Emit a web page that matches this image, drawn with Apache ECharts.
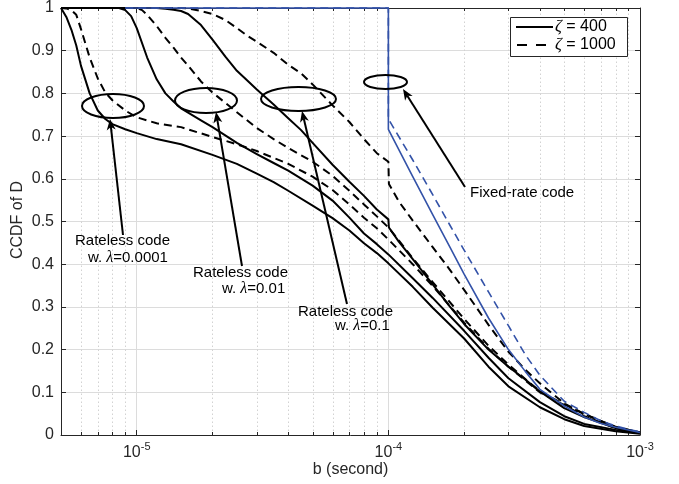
<!DOCTYPE html>
<html><head><meta charset="utf-8">
<script src="https://cdn.jsdelivr.net/npm/echarts@6/dist/echarts.min.js"></script>
<style>html,body{margin:0;padding:0;background:#fff}#c{width:679px;height:484px}</style>
</head><body><div id="c"></div>
<script>
// ---------- data (b in seconds, CCDF of D) ----------
const minorX = [6e-6,7e-6,8e-6,9e-6,2e-5,3e-5,4e-5,5e-5,6e-5,7e-5,8e-5,9e-5,2e-4,3e-4,4e-4,5e-4,6e-4,7e-4,8e-4,9e-4];

// Rateless, lambda = 0.0001
const b_S1 = [5e-6,5.25e-6,5.5e-6,5.75e-6,6e-6,6.5e-6,7e-6,7.5e-6,8e-6,9e-6,1e-5,1.2e-5,1.5e-5,2e-5,2.5e-5,3e-5,3.5e-5,4e-5,5e-5,6e-5,7e-5,8e-5,9e-5,1e-4,1.25e-4,1.5e-4,2e-4,2.5e-4,3e-4,4e-4,5e-4,6e-4,8e-4,1e-3];
const p_S1 = [1.000,0.979,0.949,0.912,0.865,0.800,0.760,0.740,0.728,0.716,0.707,0.693,0.681,0.656,0.635,0.612,0.592,0.572,0.537,0.508,0.479,0.449,0.426,0.402,0.347,0.298,0.226,0.160,0.114,0.065,0.037,0.021,0.009,0.003];
const b_D1 = [5e-6,5.25e-6,5.5e-6,5.75e-6,6e-6,6.5e-6,7e-6,7.5e-6,8e-6,9e-6,1e-5,1.2e-5,1.5e-5,2e-5,2.5e-5,3e-5,4e-5,5e-5,6e-5,7e-5,8e-5,9e-5,1e-4,1.25e-4,1.5e-4,2e-4,2.5e-4,3e-4,4e-4,5e-4,6e-4,8e-4,1e-3];
const p_D1 = [1.000,0.999,0.995,0.984,0.951,0.884,0.835,0.802,0.784,0.760,0.744,0.730,0.721,0.698,0.681,0.665,0.635,0.605,0.574,0.540,0.509,0.484,0.458,0.400,0.349,0.263,0.202,0.160,0.100,0.070,0.044,0.016,0.006];
// Rateless, lambda = 0.01
const b_S2 = [5e-6,8.5e-6,9e-6,9.5e-6,1e-5,1.1e-5,1.2e-5,1.3e-5,1.4e-5,1.5e-5,1.8e-5,2e-5,2.5e-5,3e-5,3.5e-5,4e-5,5e-5,6e-5,7e-5,8e-5,9e-5,1e-4,1.25e-4,1.5e-4,2e-4,2.5e-4,3e-4,4e-4,5e-4,6e-4,8e-4,1e-3];
const p_S2 = [1,1,0.995,0.981,0.953,0.884,0.833,0.800,0.781,0.765,0.737,0.721,0.684,0.658,0.637,0.619,0.584,0.549,0.509,0.472,0.447,0.423,0.367,0.321,0.244,0.181,0.133,0.077,0.044,0.026,0.012,0.004];
const b_D2 = [5e-6,1e-5,1.05e-5,1.1e-5,1.2e-5,1.3e-5,1.4e-5,1.5e-5,1.6e-5,1.8e-5,2e-5,2.5e-5,3e-5,3.5e-5,4e-5,5e-5,6e-5,7e-5,8e-5,9e-5,1e-4,1.1e-4,1.25e-4,1.5e-4,2e-4,2.5e-4,3e-4,4e-4,5e-4,6e-4,8e-4,1e-3];
const p_D2 = [1,1,0.995,0.984,0.958,0.930,0.907,0.884,0.865,0.828,0.802,0.756,0.719,0.693,0.672,0.640,0.607,0.572,0.540,0.512,0.486,0.456,0.414,0.358,0.272,0.209,0.165,0.102,0.072,0.049,0.019,0.006];
// Rateless, lambda = 0.1
const b_S3 = [5e-6,1.2e-5,1.3e-5,1.4e-5,1.5e-5,1.6e-5,1.8e-5,2e-5,2.25e-5,2.5e-5,2.75e-5,3e-5,3.5e-5,4e-5,4.5e-5,5e-5,6e-5,7e-5,8e-5,9e-5,1e-4,1.005e-4,1.1e-4,1.25e-4,1.5e-4,1.75e-4,2e-4,2.5e-4,3e-4,3.5e-4,4e-4,5e-4,6e-4,8e-4,1e-3];
const p_S3 = [1,1,0.998,0.996,0.993,0.986,0.960,0.926,0.886,0.853,0.830,0.809,0.774,0.742,0.714,0.684,0.633,0.593,0.560,0.528,0.505,0.486,0.453,0.412,0.353,0.302,0.260,0.200,0.160,0.130,0.102,0.063,0.042,0.016,0.005];
const b_D3 = [5e-6,1.5e-5,1.6e-5,1.8e-5,2e-5,2.25e-5,2.5e-5,2.75e-5,3e-5,3.5e-5,4e-5,4.5e-5,5e-5,6e-5,7e-5,8e-5,9e-5,1e-4,1.005e-4,1.1e-4,1.25e-4,1.5e-4,1.75e-4,2e-4,2.5e-4,3e-4,3.5e-4,4e-4,5e-4,6e-4,8e-4,1e-3];
const p_D3 = [1,1,0.999,0.993,0.986,0.972,0.953,0.935,0.921,0.895,0.867,0.847,0.821,0.772,0.733,0.693,0.660,0.640,0.588,0.547,0.502,0.440,0.388,0.340,0.258,0.195,0.153,0.121,0.074,0.049,0.019,0.006];
// Fixed-rate code
const b_FS = [9e-6,1e-4,1e-4,1.25e-4,1.5e-4,1.75e-4,2e-4,2.5e-4,3e-4,3.5e-4,4e-4,5e-4,6e-4,7e-4,8e-4,1e-3];
const p_FS = [1,1,0.716,0.605,0.516,0.442,0.377,0.274,0.200,0.149,0.107,0.068,0.042,0.027,0.018,0.006];
const b_FD = [9e-6,1e-4,1e-4,1.25e-4,1.5e-4,1.75e-4,2e-4,2.5e-4,3e-4,3.5e-4,4e-4,5e-4,6e-4,7e-4,8e-4,1e-3];
const p_FD = [1,1,0.740,0.644,0.563,0.493,0.433,0.335,0.256,0.188,0.140,0.079,0.053,0.033,0.021,0.007];

const legendNames = ['400','1000'];
// ---------------------------------------------------

const FONT = 'Liberation Sans';
const AX = '#262626';
const chart = echarts.init(document.getElementById('c'));
function pairs(xs, ys){ return xs.map((x,i)=>[x, ys[i]]); }
function lineSeries(xs, ys, color, dashed, width, z){
  return {type:'line', data:pairs(xs,ys), symbol:'none', showSymbol:false, clip:false, silent:true,
    xAxisIndex:0, yAxisIndex:0, z:z,
    lineStyle:{color:color, width:width, type: dashed ? [8,5] : 'solid', cap:'butt', join:'round'}};
}
const BLUE = '#3352a8';

const minorSeries = {
  type:'custom', silent:true, z:1, clip:false,
  data: minorX.map(v=>[v,0]),
  renderItem: function(params, api){
    const x = api.value(0);
    const p0 = api.coord([x, 0]), p1 = api.coord([x, 1]);
    const xx = Math.round(p0[0]) + 0.5;
    return {type:'group', children:[
      {type:'line', shape:{x1:xx,y1:p0[1],x2:xx,y2:p1[1]}, style:{stroke:'#d2d2d2', lineWidth:1, lineDash:[1.5,2.5]}},
      {type:'line', shape:{x1:xx,y1:p0[1],x2:xx,y2:p0[1]-3}, style:{stroke:AX, lineWidth:1}},
      {type:'line', shape:{x1:xx,y1:p1[1],x2:xx,y2:p1[1]+3}, style:{stroke:AX, lineWidth:1}}
    ]};
  }
};

function isPow10(v){ const l = Math.log10(v); return Math.abs(l - Math.round(l)) < 1e-6; }

// annotation helpers (pixel space)
function arrow(x1,y1,x2,y2){
  const dx=x2-x1, dy=y2-y1, L=Math.hypot(dx,dy), ux=dx/L, uy=dy/L, px=-uy, py=ux;
  const h=11, w=4.5, n=3;
  const bx=x2-ux*h, by=y2-uy*h, nx=x2-ux*(h-n), ny=y2-uy*(h-n);
  return [
    {type:'line', shape:{x1:x1,y1:y1,x2:nx,y2:ny}, style:{stroke:'#000', lineWidth:2}, z:50},
    {type:'polygon', shape:{points:[[x2,y2],[bx+px*w,by+py*w],[nx,ny],[bx-px*w,by-py*w]]}, style:{fill:'#000'}, z:50}
  ];
}
function ell(cx,cy,rx,ry){ return {type:'ellipse', shape:{cx:cx,cy:cy,rx:rx,ry:ry}, style:{fill:null, stroke:'#000', lineWidth:2}, z:50}; }
function txt(x,y,t,align){ return {type:'text', x:x, y:y, z:60, style:{text:t, font:'15px "Liberation Sans"', fill:'#000', textAlign:align||'left', textVerticalAlign:'middle'}}; }
function lamTxt(x,y,val){
  return {type:'text', x:x, y:y, z:60, style:{text:'{n|w. }{l|λ}{n|='+val+'}', textVerticalAlign:'middle',
    rich:{n:{fontFamily:FONT, fontSize:15, fill:'#000'}, l:{fontFamily:'Liberation Serif', fontStyle:'italic', fontSize:16, fill:'#000'}}}};
}
function legText(y, val){
  return {type:'text', x:555, y:y, z:72, style:{text:'{l|ζ}{n| = '+val+'}', textVerticalAlign:'middle',
    rich:{l:{fontFamily:'Liberation Serif', fontStyle:'italic', fontSize:17, fill:'#000'}, n:{fontFamily:FONT, fontSize:16, fill:'#000'}}}};
}

const graphics = [].concat(
  [ell(113,106,31,12), ell(206,100.5,31,12.5), ell(298.5,99,37.5,12), ell(385.5,82,21.5,7)],
  arrow(123,235,110,119), arrow(242,266,216,112), arrow(347,304,302,111), arrow(465,187,403,89),
  [txt(75,241,'Rateless code'), lamTxt(88,258,'0.0001'),
   txt(193,273,'Rateless code'), lamTxt(222,289,'0.01'),
   txt(298,312,'Rateless code'), lamTxt(335,326,'0.1'),
   txt(470,193,'Fixed-rate code')],
  [
    {type:'rect', shape:{x:510.5,y:17.5,width:117,height:39}, style:{fill:'#fff', stroke:AX, lineWidth:1}, z:70},
    {type:'line', shape:{x1:516,y1:27,x2:553,y2:27}, style:{stroke:'#000', lineWidth:2}, z:71},
    {type:'line', shape:{x1:517,y1:45,x2:553,y2:45}, style:{stroke:'#000', lineWidth:2, lineDash:[10,9]}, z:71},
    legText(27, legendNames[0]), legText(45, legendNames[1]),
    {type:'text', x:350.5, y:470, z:60, style:{text:'b (second)', font:'16px "Liberation Sans"', fill:AX, textAlign:'center', textVerticalAlign:'middle'}},
    {type:'text', x:18, y:220, rotation:Math.PI/2, z:60, style:{text:'CCDF of D', font:'16px "Liberation Sans"', fill:AX, textAlign:'center', textVerticalAlign:'middle'}}
  ]
);

const option = {
  animation:false,
  backgroundColor:'#fff',
  grid:{left:61, right:39, top:5, bottom:49, containLabel:false},
  xAxis:[
    {type:'log', logBase:10, min:5e-6, max:1e-3, splitNumber:3,
     axisLine:{show:true, onZero:false, lineStyle:{color:AX, width:1}},
     axisTick:{show:true, inside:true, length:5, lineStyle:{color:AX}},
     splitLine:{show:true, lineStyle:{color:'#dcdcdc', width:1}},
     minorTick:{show:false}, minorSplitLine:{show:false},
     axisLabel:{margin:6, formatter:function(v){ if(!isPow10(v)) return ''; return '{a|10}{b|'+Math.round(Math.log10(v))+'}'; },
       rich:{a:{fontFamily:FONT, fontSize:16, color:AX, verticalAlign:'bottom', lineHeight:20},
             b:{fontFamily:FONT, fontSize:11, color:AX, verticalAlign:'top', lineHeight:12}}}},
    {type:'log', logBase:10, min:5e-6, max:1e-3, splitNumber:3, position:'top',
     axisLine:{show:true, onZero:false, lineStyle:{color:AX, width:1}},
     axisTick:{show:true, inside:true, length:5, lineStyle:{color:AX}},
     axisLabel:{show:false}, splitLine:{show:false}}
  ],
  yAxis:[
    {type:'value', min:0, max:1, interval:0.1,
     axisLine:{show:true, onZero:false, lineStyle:{color:AX, width:1}},
     axisTick:{show:true, inside:true, length:5, lineStyle:{color:AX}},
     splitLine:{show:true, lineStyle:{color:'#dcdcdc', width:1}},
     axisLabel:{margin:7, fontFamily:FONT, fontSize:16, color:AX, formatter:function(v){ return String(+v.toFixed(1)); }}},
    {type:'value', min:0, max:1, interval:0.1, position:'right',
     axisLine:{show:true, onZero:false, lineStyle:{color:AX, width:1}},
     axisTick:{show:true, inside:true, length:5, lineStyle:{color:AX}},
     axisLabel:{show:false}, splitLine:{show:false}}
  ],
  series:[
    minorSeries,
    lineSeries(b_S1,p_S1,'#000',false,2,3),
    lineSeries(b_D1,p_D1,'#000',true,2,3),
    lineSeries(b_S2,p_S2,'#000',false,2,3),
    lineSeries(b_D2,p_D2,'#000',true,2,3),
    lineSeries(b_S3,p_S3,'#000',false,2,3),
    lineSeries(b_D3,p_D3,'#000',true,2,3),
    lineSeries(b_FD,p_FD,BLUE,true,1.6,4),
    lineSeries(b_FS,p_FS,BLUE,false,1.6,5)
  ],
  graphic:{elements:graphics}
};
chart.setOption(option);
</script>
</body></html>
